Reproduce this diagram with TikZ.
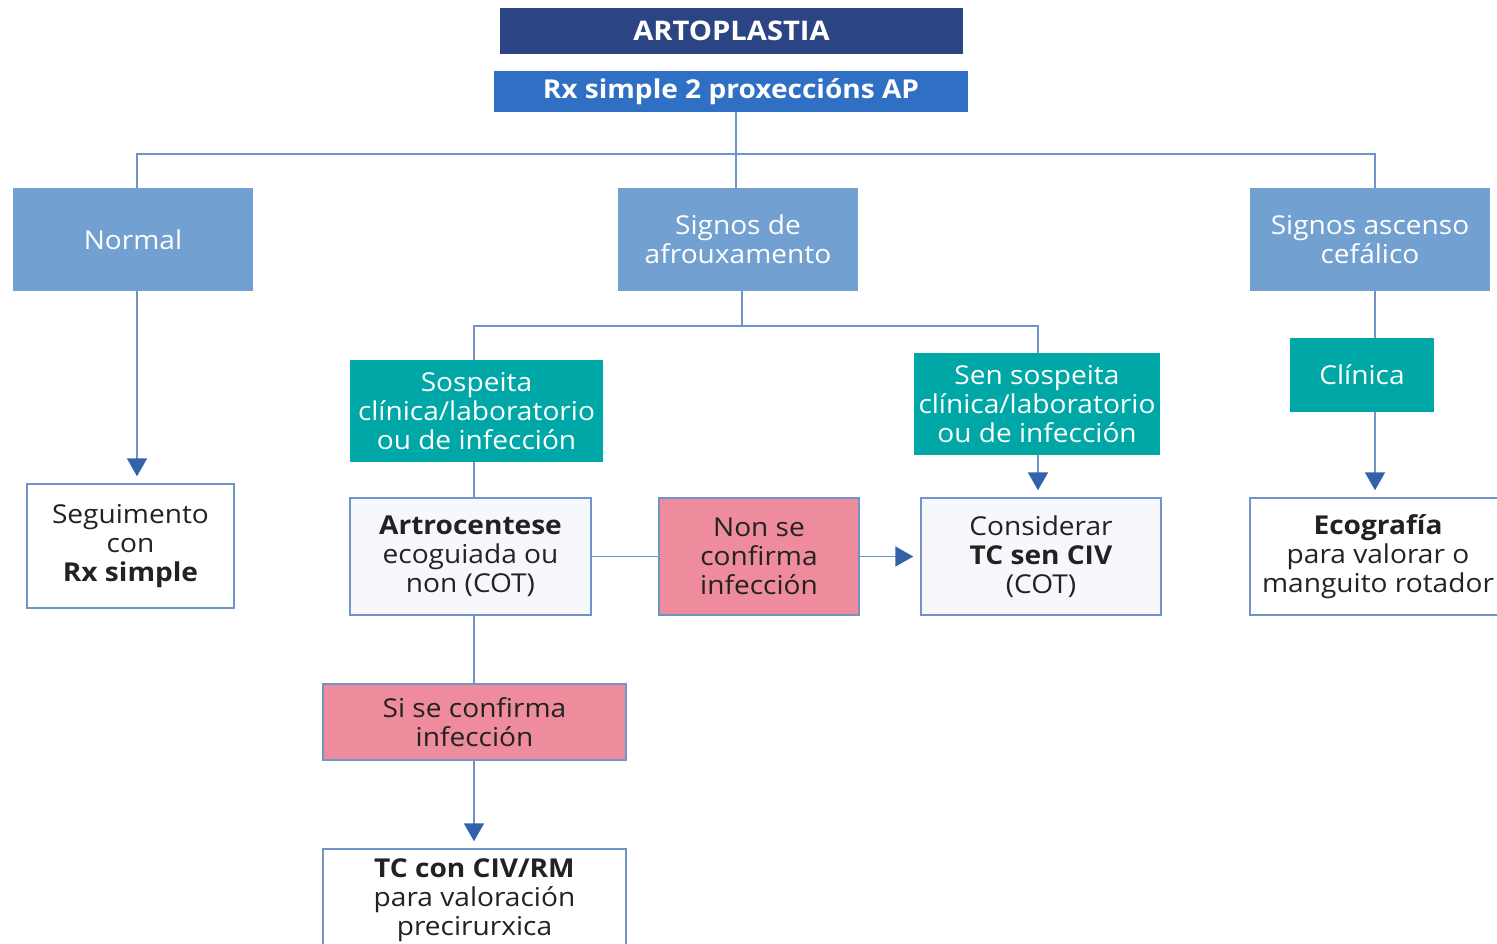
\documentclass[tikz,border=0pt]{standalone}
\usepackage{fontspec}
\setmainfont{Open Sans}[FakeStretch=1.08]
\usetikzlibrary{arrows.meta}
\definecolor{navy}{HTML}{2B4584}
\definecolor{midblue}{HTML}{3070C4}
\definecolor{lightblue}{HTML}{72A0D1}
\definecolor{teal}{HTML}{00A7A7}
\definecolor{pink}{HTML}{EE8B9C}
\definecolor{paper}{HTML}{F6F8FB}
\definecolor{edge}{HTML}{7094C8}
\definecolor{tipblue}{HTML}{3263A8}
\definecolor{ink}{HTML}{222222}
\tikzset{
  box/.style={rectangle, inner sep=0pt, align=center,
    font=\fontsize{26}{29}\selectfont},
  head/.style={box, fill=navy, text=white, font=\fontsize{27}{30}\selectfont\bfseries},
  sub/.style={box, fill=midblue, text=white, font=\fontsize{26}{30}\selectfont\bfseries},
  cat/.style={box, fill=lightblue, text=white},
  cond/.style={box, fill=teal, text=white},
  alert/.style={box, fill=pink, draw=edge, line width=1.5pt, text=ink},
  result/.style={box, fill=paper, draw=edge, line width=1.5pt, text=ink},
  plain/.style={box, fill=white, draw=edge, line width=1.5pt, text=ink},
  link/.style={draw=edge, line width=1.8pt},
  arrow/.style={link, -{Triangle[width=20pt,length=18pt,color=tipblue]}, shorten >=7pt},
}
\begin{document}
\begin{tikzpicture}[x=1pt, y=-1pt]
\clip (0,0) rectangle (1497,943);
\fill[white] (0,0) rectangle (1497,943);

% header
\node[head, minimum width=463, minimum height=46] (art) at (731.5,31) {ARTOPLASTIA};
\node[sub, minimum width=474, minimum height=41] (rx) at (731,91.5) {Rx simple 2 proxeccións AP};

% first level
\node[cat, minimum width=240, minimum height=103] (normal) at (133,239.5) {Normal};
\node[cat, minimum width=240, minimum height=103] (afrou) at (738,239.5) {Signos de\\afrouxamento};
\node[cat, minimum width=240, minimum height=103] (ascenso) at (1370,239.5) {Signos ascenso\\cefálico};

% conditions
\node[cond, minimum width=253, minimum height=102] (sosp) at (476.5,411) {Sospeita\\clínica/laboratorio\\ou de infección};
\node[cond, minimum width=246, minimum height=102] (sensosp) at (1037,404) {Sen sospeita\\clínica/laboratorio\\ou de infección};
\node[cond, minimum width=144, minimum height=74] (clinica) at (1362,375) {Clínica};

% results
\node[plain, minimum width=207, minimum height=124] (segu) at (130.5,546) {Seguimento\\con\\\textbf{Rx simple}};
\node[result, minimum width=241, minimum height=117] (artro) at (470.5,556.5) {\textbf{Artrocentese}\\ecoguiada ou\\non (COT)};
\node[alert, minimum width=200, minimum height=117] (nonse) at (759,556.5) {Non se\\confirma\\infección};
\node[result, minimum width=240, minimum height=117] (consid) at (1041,556.5) {Considerar\\\textbf{TC sen CIV}\\(COT)};
\node[plain, minimum width=256, minimum height=117] (ecog) at (1378,556.5) {\textbf{Ecografía}\\para valorar o\\manguito rotador};
\node[alert, minimum width=303, minimum height=76] (sise) at (474.5,722) {Si se confirma\\infección};
\node[plain, minimum width=303, minimum height=102] (tc) at (474.5,900) {\textbf{TC con CIV/RM}\\para valoración\\precirurxica};

% tree connectors
\coordinate (split1) at (736,154);
\coordinate (split2) at (742,326);
\draw[link] (rx.south -| split1) -- (split1);
\draw[link] (normal.north -| 137,0) -- (137,154) -- (1375,154) -- (ascenso.north -| 1375,0);
\draw[link] (split1) -- (afrou.north -| split1);
\draw[link] (afrou.south -| split2) -- (split2);
\draw[link] (sosp.north -| 474,0) -- (474,326) -- (1038,326) -- (sensosp.north -| 1038,0);
\draw[link] (ascenso.south -| 1375,0) -- (clinica.north -| 1375,0);

% arrows and links between boxes
\draw[arrow] (normal.south -| 137,0) -- (segu.north -| 137,0);
\draw[link] (sosp.south -| 474,0) -- (artro.north -| 474,0);
\draw[link] (artro.east) -- (nonse.west);
\draw[arrow] (nonse.east) -- (consid.west);
\draw[arrow] (sensosp.south -| 1038,0) -- (consid.north -| 1038,0);
\draw[link] (artro.south -| 474,0) -- (sise.north -| 474,0);
\draw[arrow] (sise.south -| 474,0) -- (tc.north -| 474,0);
\draw[arrow] (clinica.south -| 1375,0) -- (ecog.north -| 1375,0);
\end{tikzpicture}
\end{document}
